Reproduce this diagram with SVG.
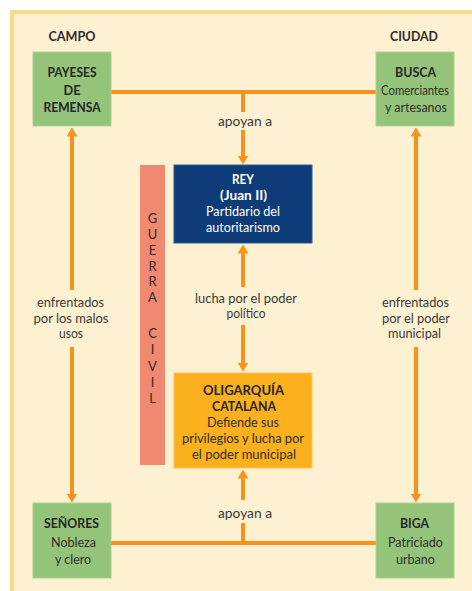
<svg xmlns="http://www.w3.org/2000/svg" width="472" height="591" viewBox="0 0 472 591">
<defs>
<style>
text{font-family:Lato,"Open Sans","Liberation Sans",sans-serif;text-anchor:middle;}
.lbl{font-size:13.5px;fill:#3a3a3a;}
.hd{font-size:14px;font-weight:bold;fill:#2b2b2b;}
.bt{font-size:14px;font-weight:bold;fill:#262626;}
.bs{font-size:14px;fill:#2e2e2e;}
.ct{font-size:13px;font-weight:bold;fill:#262626;}
.cs{font-size:13px;fill:#2e2e2e;}
.wt{font-size:13px;font-weight:bold;fill:#ffffff;}
.ws{font-size:13px;fill:#ffffff;}
.gc{font-size:13px;fill:#3a2a22;}
.green{fill:#94c479;stroke:#a9d291;stroke-width:1;}
.con{stroke:#f5931c;stroke-width:4;fill:none;}
</style>
<marker id="ah" viewBox="0 0 9 11" refX="0.5" refY="5.5" markerWidth="9" markerHeight="11" markerUnits="userSpaceOnUse" orient="auto">
<path d="M0,0 L9,5.5 L0,11 z" fill="#f5931c"/>
</marker>
</defs>
<rect x="0" y="0" width="472" height="591" fill="#ffffff"/>
<rect x="12" y="12" width="470" height="600" fill="#fef1d1" stroke="#fdd98c" stroke-width="4"/>
<text class="hd" x="72" y="41" textLength="47" lengthAdjust="spacingAndGlyphs">CAMPO</text>
<text class="hd" x="414" y="41" textLength="48" lengthAdjust="spacingAndGlyphs">CIUDAD</text>
<g id="connectors">
<line class="con" x1="111" y1="92" x2="376" y2="92"/>
<line class="con" x1="243" y1="92" x2="243" y2="112"/>
<line class="con" x1="243" y1="130" x2="243" y2="156" marker-end="url(#ah)"/>
<line class="con" x1="243" y1="287" x2="243" y2="253" marker-end="url(#ah)"/>
<line class="con" x1="243" y1="325" x2="243" y2="363" marker-end="url(#ah)"/>
<line class="con" x1="111" y1="543" x2="376" y2="543"/>
<line class="con" x1="243" y1="543" x2="243" y2="523"/>
<line class="con" x1="243" y1="500" x2="243" y2="478" marker-end="url(#ah)"/>
<line class="con" x1="72" y1="290" x2="72" y2="136" marker-end="url(#ah)"/>
<line class="con" x1="72" y1="347" x2="72" y2="494" marker-end="url(#ah)"/>
<line class="con" x1="416" y1="290" x2="416" y2="136" marker-end="url(#ah)"/>
<line class="con" x1="416" y1="347" x2="416" y2="494" marker-end="url(#ah)"/>
<text class="lbl" x="245" y="126" textLength="54" lengthAdjust="spacingAndGlyphs">apoyan a</text>
<text class="lbl" x="246" y="303" textLength="102" lengthAdjust="spacingAndGlyphs">lucha por el poder</text>
<text class="lbl" x="246" y="318" textLength="39" lengthAdjust="spacingAndGlyphs">político</text>
<text class="lbl" x="245" y="518" textLength="54" lengthAdjust="spacingAndGlyphs">apoyan a</text>
<text class="lbl" x="70.5" y="307" textLength="67" lengthAdjust="spacingAndGlyphs">enfrentados</text>
<text class="lbl" x="71" y="323" textLength="75" lengthAdjust="spacingAndGlyphs">por los malos</text>
<text class="lbl" x="71" y="338" textLength="24" lengthAdjust="spacingAndGlyphs">usos</text>
<text class="lbl" x="415.5" y="307" textLength="67" lengthAdjust="spacingAndGlyphs">enfrentados</text>
<text class="lbl" x="416" y="323" textLength="68" lengthAdjust="spacingAndGlyphs">por el poder</text>
<text class="lbl" x="414.5" y="338" textLength="53" lengthAdjust="spacingAndGlyphs">municipal</text>
</g>
<g id="payeses">
<rect class="green" x="33" y="52" width="78" height="74"/>
<text class="bt" x="72" y="77" textLength="49" lengthAdjust="spacingAndGlyphs">PAYESES</text>
<text class="bt" x="72" y="95" textLength="17" lengthAdjust="spacingAndGlyphs">DE</text>
<text class="bt" x="72" y="112" textLength="57" lengthAdjust="spacingAndGlyphs">REMENSA</text>
</g>
<g id="busca">
<rect class="green" x="376" y="52" width="78" height="74"/>
<text class="bt" x="415.5" y="77" textLength="41" lengthAdjust="spacingAndGlyphs">BUSCA</text>
<text class="bs" x="415" y="95" textLength="68" lengthAdjust="spacingAndGlyphs">Comerciantes</text>
<text class="bs" x="416" y="112" textLength="62" lengthAdjust="spacingAndGlyphs">y artesanos</text>
</g>
<g id="senores">
<rect class="green" x="33" y="503" width="78" height="75"/>
<text class="bt" x="71.5" y="528" textLength="55" lengthAdjust="spacingAndGlyphs">SEÑORES</text>
<text class="bs" x="73.5" y="547" textLength="45" lengthAdjust="spacingAndGlyphs">Nobleza</text>
<text class="bs" x="73" y="564" textLength="36" lengthAdjust="spacingAndGlyphs">y clero</text>
</g>
<g id="biga">
<rect class="green" x="376" y="503" width="78" height="75"/>
<text class="bt" x="414.5" y="528" textLength="29" lengthAdjust="spacingAndGlyphs">BIGA</text>
<text class="bs" x="415.5" y="547" textLength="55" lengthAdjust="spacingAndGlyphs">Patriciado</text>
<text class="bs" x="415.5" y="564" textLength="39" lengthAdjust="spacingAndGlyphs">urbano</text>
</g>
<g id="guerra-civil">
<rect x="140" y="165" width="25" height="300" fill="#ef8971"/>
<text class="gc" x="152.5" y="223">G</text>
<text class="gc" x="152.5" y="239">U</text>
<text class="gc" x="152.5" y="255">E</text>
<text class="gc" x="152.5" y="271">R</text>
<text class="gc" x="152.5" y="286">R</text>
<text class="gc" x="152.5" y="302">A</text>
<text class="gc" x="152.5" y="338">C</text>
<text class="gc" x="152.5" y="354">I</text>
<text class="gc" x="152.5" y="371">V</text>
<text class="gc" x="152.5" y="387">I</text>
<text class="gc" x="152.5" y="403">L</text>
</g>
<g id="rey">
<rect x="174" y="165" width="138" height="78" fill="#0d3c78" stroke="#2a5a90" stroke-width="1"/>
<text class="wt" x="243" y="184" textLength="22" lengthAdjust="spacingAndGlyphs">REY</text>
<text class="wt" x="243.5" y="200" textLength="47" lengthAdjust="spacingAndGlyphs">(Juan II)</text>
<text class="ws" x="243" y="216" textLength="74" lengthAdjust="spacingAndGlyphs">Partidario del</text>
<text class="ws" x="243" y="232" textLength="74" lengthAdjust="spacingAndGlyphs">autoritarismo</text>
</g>
<g id="oligarquia">
<rect x="174" y="373" width="138" height="95" fill="#fbb01e" stroke="#fcc454" stroke-width="1"/>
<text class="ct" x="243.5" y="395" textLength="81" lengthAdjust="spacingAndGlyphs">OLIGARQUÍA</text>
<text class="ct" x="244" y="411" textLength="64" lengthAdjust="spacingAndGlyphs">CATALANA</text>
<text class="cs" x="243" y="427" textLength="72" lengthAdjust="spacingAndGlyphs">Defiende sus</text>
<text class="cs" x="243" y="443" textLength="122" lengthAdjust="spacingAndGlyphs">privilegios y lucha por</text>
<text class="cs" x="244" y="459" textLength="104" lengthAdjust="spacingAndGlyphs">el poder municipal</text>
</g>
</svg>
